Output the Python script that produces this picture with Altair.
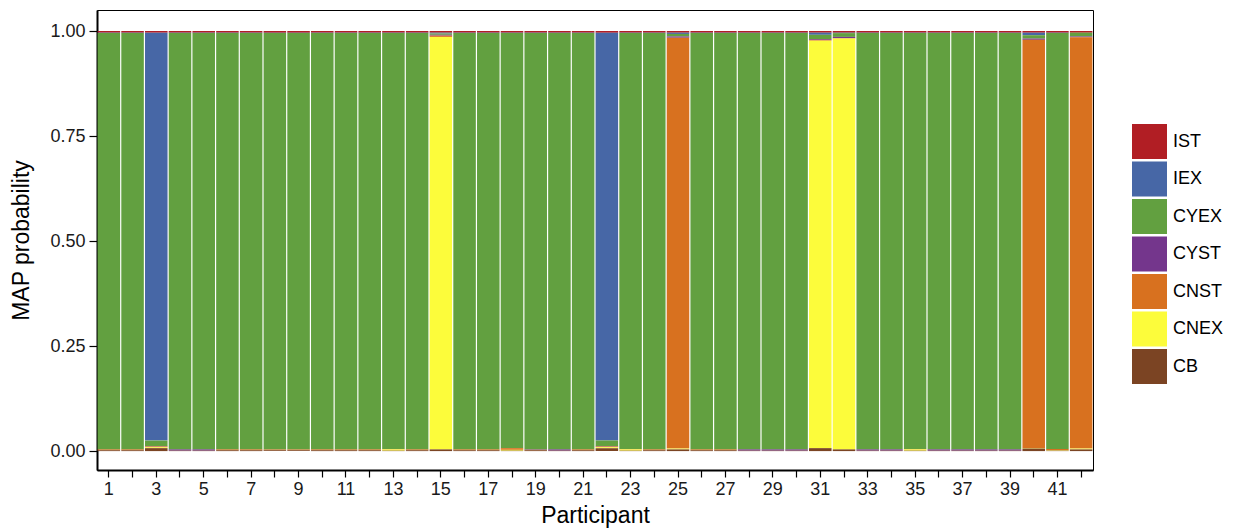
import altair as alt
import pandas as pd

participants = list(range(1, 43))
categories = ["IST", "IEX", "CYEX", "CYST", "CNST", "CNEX", "CB"]
colors = ["#B11E24", "#4767A6", "#62A040", "#74368C", "#D8711F", "#FCFC3B", "#7B4423"]
stack_rank = {"CB": 0, "CNEX": 1, "CNST": 2, "CYST": 3, "CYEX": 4, "IEX": 5, "IST": 6}

CB = [.002, .002, .007, .001, .001, .002, .002, .002, .002, .002, .002, .002, .001, .002, .004,
      .002, .002, .001, .002, .001, .002, .007, .001, .002, .004, .002, .002, .001, .001, .001,
      .007, .004, .001, .001, .001, .001, .001, .001, .001, .006, .001, .004]
CNEX = [0, 0, .002, 0, 0, 0, 0, 0, 0, 0, 0, 0, .003, 0, .982,
        0, 0, .002, 0, 0, 0, .002, .003, 0, .002, 0, 0, 0, 0, 0,
        .970, .978, 0, 0, .003, 0, 0, 0, 0, .001, .001, .002]
CNST = [.002, .002, .002, 0, 0, .002, .002, .002, .002, .002, .002, .002, .001, .002, .003,
        .002, .002, .004, .001, 0, .002, .002, .001, .002, .978, .002, .002, 0, 0, 0,
        .002, .001, 0, 0, .001, 0, 0, 0, 0, .972, .003, .979]
CYST = [0, 0, .001, .003, .003, 0, 0, 0, 0, 0, 0, 0, 0, 0, .002,
        0, 0, 0, .001, .003, 0, .001, 0, 0, .003, 0, 0, .003, .003, .003,
        .002, .003, .003, .003, 0, .003, .003, .003, .003, .003, 0, .002]
CYEX = [.991, .991, .013, .991, .991, .991, .991, .991, .991, .991, .991, .991, .990, .991, .003,
        .991, .991, .988, .991, .991, .991, .013, .990, .991, .006, .991, .991, .991, .991, .991,
        .010, .009, .991, .991, .990, .991, .991, .991, .991, .008, .990, .009]
IEX = [.001, .001, .971, .001, .001, .001, .001, .001, .001, .001, .001, .001, .001, .001, .002,
       .001, .001, .001, .001, .001, .001, .971, .001, .001, .003, .001, .001, .001, .001, .001,
       .005, .001, .001, .001, .001, .001, .001, .001, .001, .006, .001, 0]
IST = [.004, .004, .004, .004, .004, .004, .004, .004, .004, .004, .004, .004, .004, .004, .004,
       .004, .004, .004, .004, .004, .004, .004, .004, .004, .004, .004, .004, .004, .004, .004,
       .004, .004, .004, .004, .004, .004, .004, .004, .004, .004, .004, .004]

series = {"IST": IST, "IEX": IEX, "CYEX": CYEX, "CYST": CYST, "CNST": CNST, "CNEX": CNEX, "CB": CB}

rows = []
for cat in categories:
    for p, v in zip(participants, series[cat]):
        rows.append({"participant": p, "model": cat, "value": v, "rank": stack_rank[cat]})
df = pd.DataFrame(rows)

FONT = "Liberation Sans"

chart = alt.Chart(df).mark_bar(strokeWidth=0).encode(
    x=alt.X("participant:O", sort=participants,
            scale=alt.Scale(paddingInner=0.05, paddingOuter=0.025),
            axis=alt.Axis(title="Participant", labelAngle=0,
                          labelExpr="datum.value % 2 == 1 ? datum.label : ''",
                          tickSize=7, labelPadding=3, titlePadding=6)),
    y=alt.Y("value:Q", stack="zero",
            scale=alt.Scale(domain=[-0.045, 1.05], nice=False, zero=False),
            axis=alt.Axis(title="MAP probability", values=[0, 0.25, 0.5, 0.75, 1.0],
                          format=".2f", tickSize=8, labelPadding=4, titlePadding=16)),
    color=alt.Color("model:N", scale=alt.Scale(domain=categories, range=colors),
                    legend=alt.Legend(title=None, orient="none", legendX=1035, legendY=114,
                                      symbolType="square", symbolSize=1225,
                                      symbolStrokeWidth=0, symbolOpacity=1,
                                      labelFontSize=18, labelOffset=6, rowPadding=2.5,
                                      padding=0)),
    order=alt.Order("rank:Q", sort="ascending"),
    tooltip=["participant:O", "model:N", "value:Q"],
).properties(
    width=996, height=460,
    autosize=alt.AutoSizeParams(type="none"),
    padding={"left": 89, "top": 2, "right": 133, "bottom": 62},
).configure_view(
    stroke="black", strokeWidth=1
).configure_axis(
    domainColor="black", domainWidth=2, tickColor="black", tickWidth=1.2,
    labelColor="#1a1a1a", labelFont=FONT, labelFontSize=18,
    titleFont=FONT, titleFontSize=23, titleFontWeight="normal", titleColor="black",
    grid=False,
).configure_legend(
    labelFont=FONT, labelColor="black"
)

chart.save("out.html", embed_options={"renderer": "svg", "actions": False})
